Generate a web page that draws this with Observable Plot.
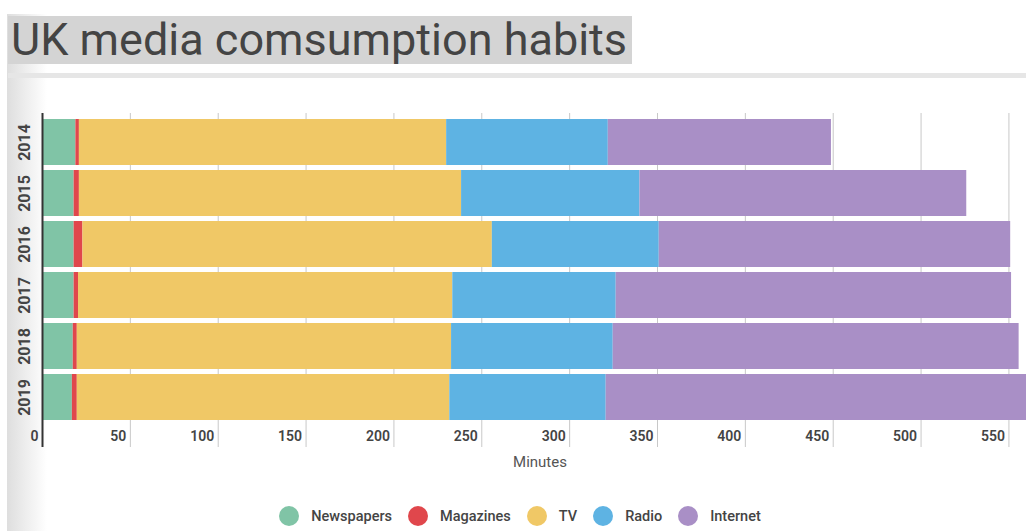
<!DOCTYPE html>
<html>
<head>
<meta charset="utf-8">
<script src="https://cdn.jsdelivr.net/npm/d3@7"></script>
<script src="https://cdn.jsdelivr.net/npm/@observablehq/plot@0.6"></script>
<style>
  html, body { margin: 0; padding: 0; background: #fff; overflow: hidden; }
  body { width: 1026px; height: 531px; position: relative; font-family: Roboto, "Noto Sans", sans-serif; }
  #shade { position: absolute; left: 7px; top: 14px; width: 40px; height: 517px;
           background: linear-gradient(to right, #dedede, rgba(255,255,255,0)); }
  #titlebox { position: absolute; left: 8px; top: 16px; width: 624px; height: 48px; background: #d4d4d4; }
  #title { position: absolute; left: 11px; top: 11px; font-size: 45px; line-height: 58px; font-weight: 400; color: #444; white-space: nowrap; }
  #rule { position: absolute; left: 8px; top: 73px; width: 1018px; height: 5px; background: #e6e6e6; }
  #chart { position: absolute; left: 0; top: 90px; }
  #xlabel { position: absolute; left: 540px; top: 453px; transform: translateX(-50%); font-size: 15px; color: #555; }
  #legend { position: absolute; left: 0; width: 1040px; top: 506px; display: flex; justify-content: center; align-items: center; }
  .item { display: flex; align-items: center; margin: 0 8px; }
  .dot { width: 20px; height: 20px; border-radius: 50%; margin-right: 12px; }
  .lab { font-size: 14.5px; font-weight: 500; color: #444; }
</style>
</head>
<body>
<div id="shade"></div>
<div id="titlebox"></div>
<div id="title">UK media comsumption habits</div>
<div id="rule"></div>
<div id="chart"></div>
<div id="xlabel">Minutes</div>
<div id="legend"></div>
<script>
const years = ["2014", "2015", "2016", "2017", "2018", "2019"];
const categories = ["Newspapers", "Magazines", "TV", "Radio", "Internet"];
const colors = ["#80c4a6", "#e0474c", "#f0c866", "#5eb3e3", "#a98fc6"];
const newspapers = [19, 18, 18, 18, 17.5, 17];
const magazines = [2, 3, 5, 2.5, 2.3, 2.8];
const tv = [209, 217.5, 233, 213, 213, 212];
const radio = [92, 101.5, 95, 93, 92, 89];
const internet = [127, 186, 200, 225, 231, 245];
const xTicks = [0, 50, 100, 150, 200, 250, 300, 350, 400, 450, 500, 550];

const series = [newspapers, magazines, tv, radio, internet];
const rows = [];
years.forEach((y, i) => {
  categories.forEach((c, j) => rows.push({year: y, category: c, minutes: series[j][i]}));
});

const chart = Plot.plot({
  width: 1026,
  height: 365,
  marginTop: 23,
  marginBottom: 30,
  marginLeft: 42,
  marginRight: 0,
  style: {fontFamily: "Roboto, 'Noto Sans', sans-serif", background: "transparent"},
  x: {domain: [0, 560]},
  y: {domain: years, padding: 0.1},
  color: {domain: categories, range: colors},
  marks: [
    Plot.gridX(xTicks.slice(1), {stroke: "#c8c8c8", strokeOpacity: 1}),
    Plot.axisX(xTicks.slice(1), {tickSize: 22, stroke: "#c8c8c8", tickFormat: () => "", label: null}),
    Plot.axisX(xTicks, {tickSize: 0, tickPadding: 6, textAnchor: "end", dx: -4, fill: "#444", fontSize: 14, fontWeight: 600, label: null}),
    Plot.barX(rows, Plot.stackX({x: "minutes", y: "year", fill: "category", order: categories, clip: true})),
    Plot.ruleX([0], {stroke: "#333", strokeWidth: 2}),
    Plot.axisX([0], {tickSize: 22, stroke: "#333", strokeWidth: 2, tickFormat: () => "", label: null}),
    Plot.axisY({tickSize: 0, tickRotate: -90, tickPadding: 13, fontSize: 16, fontWeight: 700, fill: "#444", label: null})
  ]
});
document.getElementById("chart").appendChild(chart);

const legend = document.getElementById("legend");
categories.forEach((c, i) => {
  const it = document.createElement("div");
  it.className = "item";
  it.innerHTML = `<span class="dot" style="background:${colors[i]}"></span><span class="lab">${c}</span>`;
  legend.appendChild(it);
});
</script>
</body>
</html>
